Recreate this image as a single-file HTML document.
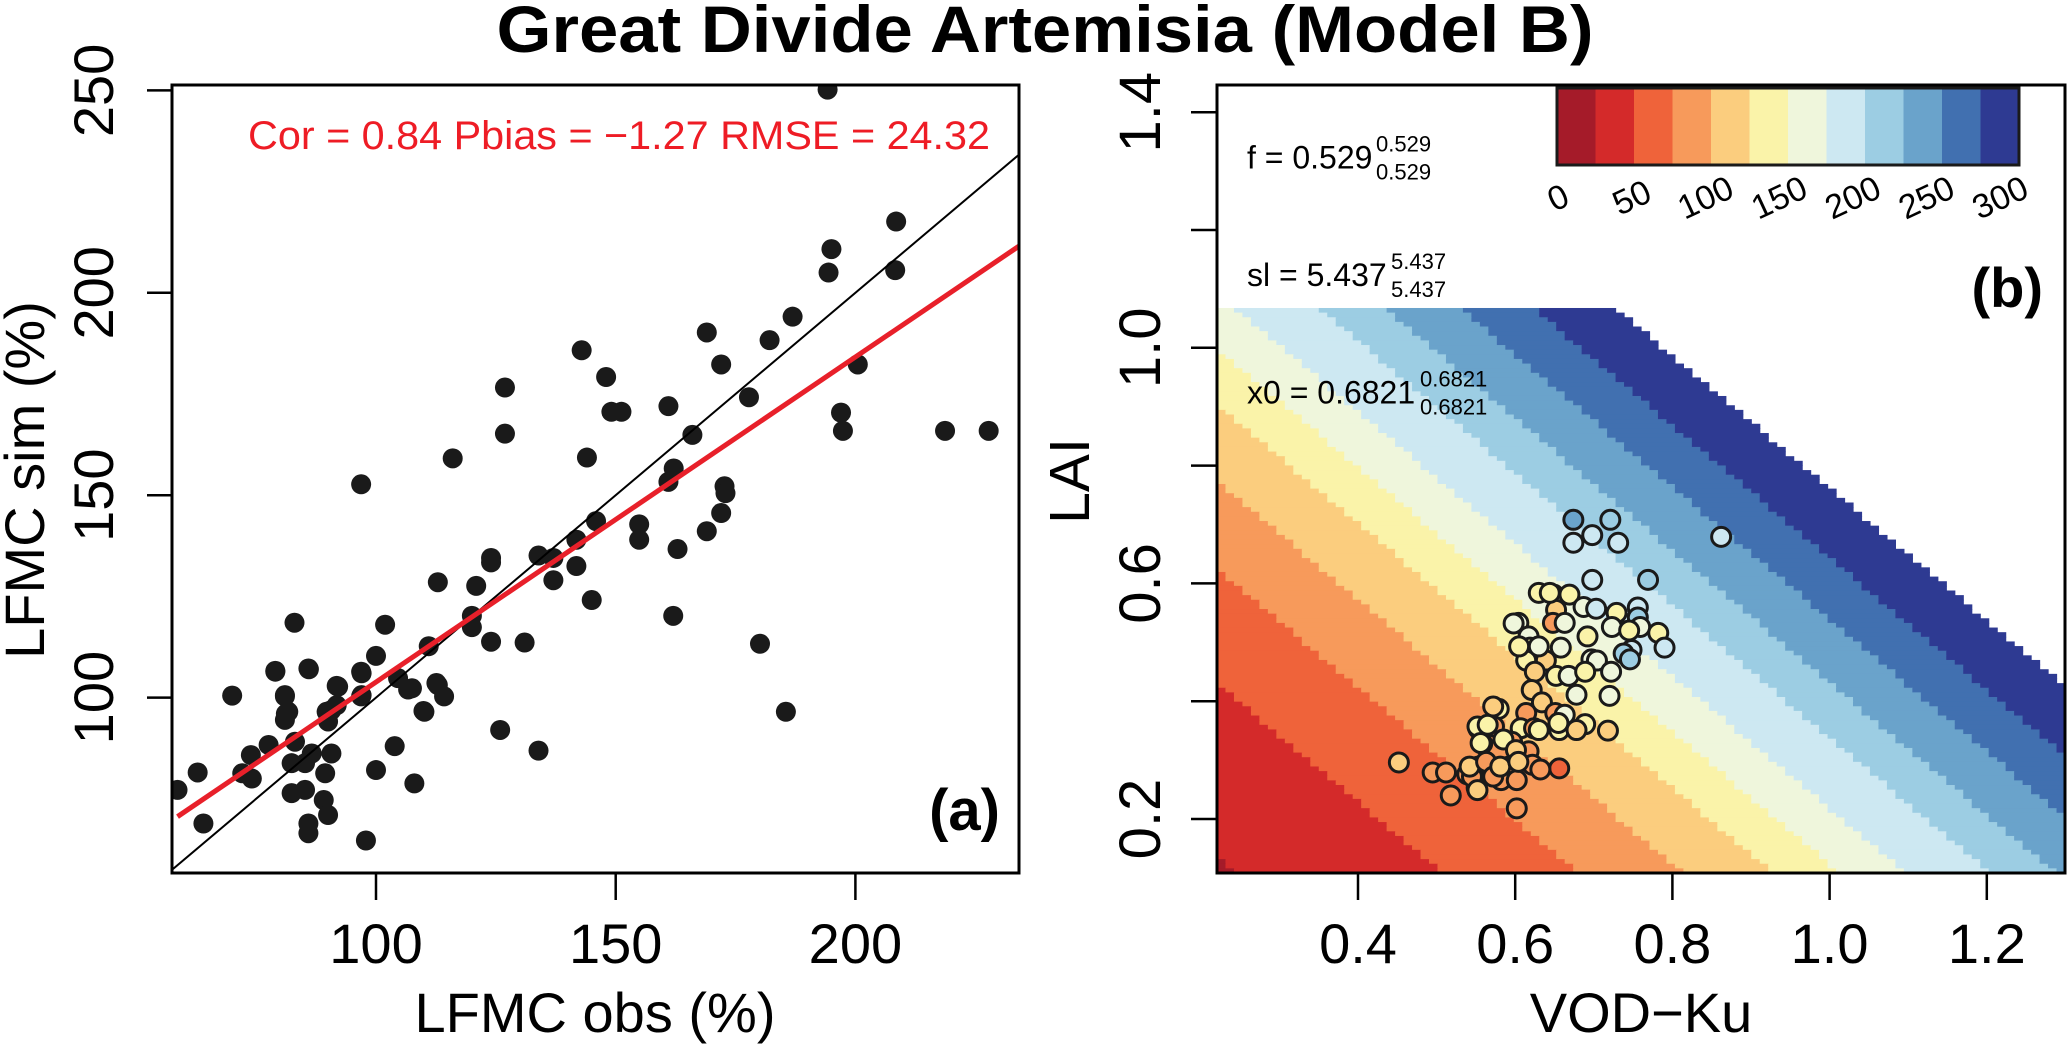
<!DOCTYPE html>
<html><head><meta charset="utf-8"><style>
html,body{margin:0;padding:0;background:#fff;}
svg text{font-family:"Liberation Sans",Arial,sans-serif;}
</style></head><body>
<svg id="fig" width="2067" height="1044" viewBox="0 0 2067 1044" xmlns="http://www.w3.org/2000/svg">
<text x="1045" y="52" font-size="66" font-weight="bold" text-anchor="middle" textLength="1097" lengthAdjust="spacingAndGlyphs">Great Divide Artemisia (Model B)</text>
<g id="left"></g>
<g id="right"></g>
</svg>
<script>
// ---------- Panel (a) data ----------
const obsX = [186.9,169.0,182.1,142.9,172.0,126.9,148.0,149.1,151.2,161.0,177.8,126.9,166.0,116.0,144.0,162.1,161.0,172.7,172.9,172.0,96.9,145.9,154.9,154.9,169.0,141.8,162.9,124.0,124.0,133.9,137.0,141.8,137.0,112.9,120.9,145.0,162.0,120.0,120.0,83.0,101.9,124.0,131.0,180.1,111.0,100.0,79.0,86.0,96.9,104.6,106.7,91.8,112.6,114.2,70.0,81.0,96.9,81.2,109.9,89.7,91.8,185.5,125.9,133.9,108.0,103.9,100.0,97.9,110.1,107.5,97.0,97.0,79.0,85.9,81.0,81.7,81.0,92.1,90.7,90.0,77.6,73.9,74.1,72.1,83.1,82.4,86.6,85.2,89.4,90.7,82.4,85.2,89.1,90.0,85.9,85.9,62.8,58.6,64.0,194.2,208.5,195.0,194.4,208.3,197.0,197.4,218.7,227.8,200.5,112.9];
const simY = [194.1,190.2,188.3,185.8,182.3,176.6,179.2,170.6,170.6,172.0,174.2,165.2,164.9,159.1,159.3,156.6,153.3,152.2,150.5,145.6,152.7,143.6,142.8,139.0,141.1,139.0,136.7,134.5,133.4,135.1,134.5,132.5,129.0,128.5,127.6,124.1,120.2,120.2,117.4,118.5,118.0,113.8,113.6,113.3,112.7,110.3,106.6,107.0,106.4,104.8,102.0,102.9,103.6,100.3,100.5,100.3,100.3,96.0,96.7,96.5,98.1,96.5,92.0,86.9,78.8,88.0,82.1,64.7,96.5,102.3,100.6,106.0,106.4,107.2,100.6,96.5,94.5,102.7,96.9,94.1,88.3,85.8,80.0,81.3,89.1,83.8,86.2,83.8,81.3,86.2,76.4,77.2,74.7,71.0,68.9,66.5,81.5,77.2,68.9,250.2,217.6,210.8,205.0,205.6,170.4,165.9,165.9,165.9,182.3,103.1];
const xTicksA = [100,150,200];
const yTicksA = [100,150,200,250];
const regA = 23.54, regB = 0.803;
const statsText = ["Cor = 0.84","Pbias = \u22121.27","RMSE = 24.32"];

// ---------- Panel (b) data ----------
const vodPts = [0.674,0.721,0.674,0.698,0.731,0.862,0.698,0.769,0.649,0.669,0.652,0.687,0.703,0.729,0.756,0.756,0.604,0.648,0.663,0.723,0.692,0.759,0.745,0.782,0.617,0.658,0.748,0.790,0.619,0.738,0.746,0.614,0.639,0.697,0.704,0.625,0.652,0.668,0.689,0.722,0.621,0.720,0.634,0.579,0.614,0.651,0.663,0.553,0.573,0.607,0.624,0.656,0.689,0.718,0.558,0.596,0.617,0.622,0.656,0.539,0.553,0.568,0.592,0.582,0.602,0.551,0.602,0.452,0.495,0.512,0.518,0.545,0.542,0.552,0.563,0.572,0.581,0.552,0.565,0.572,0.556,0.585,0.601,0.604,0.632,0.598,0.630,0.644,0.605,0.630,0.678,0.655,0.678,0.630];
const laiPts = [0.708,0.708,0.669,0.682,0.669,0.679,0.606,0.606,0.581,0.581,0.555,0.560,0.557,0.550,0.559,0.542,0.533,0.533,0.533,0.526,0.510,0.526,0.520,0.516,0.510,0.491,0.487,0.491,0.491,0.481,0.471,0.469,0.469,0.471,0.469,0.450,0.443,0.443,0.450,0.450,0.419,0.409,0.398,0.387,0.380,0.380,0.377,0.354,0.357,0.354,0.354,0.351,0.361,0.350,0.328,0.331,0.315,0.292,0.286,0.276,0.289,0.289,0.289,0.266,0.266,0.253,0.218,0.296,0.279,0.279,0.240,0.272,0.289,0.249,0.297,0.272,0.289,0.357,0.360,0.391,0.329,0.335,0.317,0.297,0.284,0.532,0.584,0.584,0.493,0.493,0.411,0.363,0.351,0.351];
const lfmcPts = [235,210,185,185,185,185,185,210,160,135,110,160,185,135,185,210,160,85,160,160,135,160,135,135,160,160,185,185,135,210,210,135,110,160,160,110,135,160,135,160,110,160,110,135,85,85,160,135,85,135,85,135,135,110,135,85,85,85,65,85,110,85,85,85,85,85,85,110,85,85,85,85,110,110,85,85,110,135,135,110,135,135,110,110,85,160,135,135,135,160,160,135,110,135];
const legendBreaks = [0,25,50,75,100,125,150,175,200,225,250,275,300];
const legendLabels = [0,50,100,150,200,250,300];
const palette = ["#a51b29","#d42a2a","#ef633a","#f79a5b","#fbcd7e","#faf3a9","#eff6dc","#cde8f2","#9ccde3","#6aa3cb","#4170b0","#2e3a92"];
const sBreaks = [0.241,0.503,0.676,0.809,0.924,1.009,1.093,1.2,1.283,1.379,1.472,1.577];
const xTicksB = [0.4,0.6,0.8,1.0,1.2];
const yTicksB = [0.2,0.4,0.6,0.8,1.0,1.2,1.4];
const yLabelsB = [0.2,0.6,1.0,1.4];

const NS = "http://www.w3.org/2000/svg";
function mk(tag, attrs, parent){const e=document.createElementNS(NS,tag);for(const k in attrs)e.setAttribute(k,attrs[k]);parent.appendChild(e);return e;}

// ---------- Panel (a) ----------
const L = document.getElementById('left');
const xL = v => 376 + (v-100)*4.794;
const yL = v => 697.6 - (v-100)*4.048;
const boxA = {x0:172,x1:1019,y0:85,y1:873};
const clipA = mk('clipPath',{id:'clipA'},L);
mk('rect',{x:boxA.x0,y:boxA.y0,width:boxA.x1-boxA.x0,height:boxA.y1-boxA.y0},clipA);
const gA = mk('g',{'clip-path':'url(#clipA)'},L);


obsX.forEach((x,i)=>{
  const c = mk('circle',{cx:xL(x),cy:yL(simY[i]),r:10,fill:'#1a1a1a'},gA);
  
  
});
const one = mk('line',{x1:xL(50),y1:yL(50),x2:xL(260),y2:yL(260),stroke:'#000','stroke-width':2},gA);


const rx0=58.6, rx1=236;
const reg = mk('line',{x1:xL(rx0),y1:yL(regA+regB*rx0),x2:xL(rx1),y2:yL(regA+regB*rx1),stroke:'#e8202a','stroke-width':5},gA);


const bA = mk('rect',{x:boxA.x0,y:boxA.y0,width:boxA.x1-boxA.x0,height:boxA.y1-boxA.y0,fill:'none',stroke:'#000','stroke-width':3},L);


xTicksA.forEach(t=>{
  mk('line',{x1:xL(t),y1:873,x2:xL(t),y2:900,stroke:'#000','stroke-width':2.5},L);
  const tx = mk('text',{x:xL(t),y:963,'font-size':56,'text-anchor':'middle'},L);
  tx.textContent=t;
  
  
});
yTicksA.forEach(t=>{
  mk('line',{x1:147,y1:yL(t),x2:172,y2:yL(t),stroke:'#000','stroke-width':2.5},L);
  const tx = mk('text',{x:0,y:0,'font-size':56,'text-anchor':'middle',transform:`translate(113,${yL(t)}) rotate(-90)`},L);
  tx.textContent=t;
  
  
});
const xtA = mk('text',{x:595,y:1032,'font-size':56,'text-anchor':'middle'},L);
xtA.textContent='LFMC obs (%)';


const ytA = mk('text',{x:0,y:0,'font-size':56,'text-anchor':'middle',transform:'translate(44,480) rotate(-90)'},L);
ytA.textContent='LFMC sim (%)';


const st = mk('text',{x:248,y:149,'font-size':40,fill:'#ee1c25',textLength:742,lengthAdjust:'spacingAndGlyphs'},L);
st.textContent=statsText.join(' ');


const la = mk('text',{x:1000,y:830,'font-size':58,'font-weight':'bold','text-anchor':'end'},L);
la.textContent='(a)';



// ---------- Panel (b) ----------
const R = document.getElementById('right');
const xR = v => 1358 + (v-0.4)*786;
const yR = v => 819 - (v-0.2)*589;
const boxB = {x0:1217,x1:2065,y0:85,y1:873};
const vMin = (boxB.x0-1358)/786+0.4, vMax=(boxB.x1-1358)/786+0.4;
const lTop = 1.0676, lBot = 0.2-(boxB.y1-819)/589;
const heat = mk('g',{},R);


const cols=100, rows=122;
const cw=(boxB.x1-boxB.x0)/cols, ch=(yR(lBot)-yR(lTop))/rows;
function band(vod,lai){const s=vod+0.89*(lai-0.113);let b=0;for(const k of sBreaks){if(s>k)b++;}return b;}
for(let r=0;r<rows;r++){
  const lai = lTop-(r+0.5)*(lTop-lBot)/rows;
  let start=0, cur=band(vMin+0.5*(vMax-vMin)/cols,lai);
  for(let c=1;c<=cols;c++){
    const b = c<cols ? band(vMin+(c+0.5)*(vMax-vMin)/cols,lai) : -1;
    if(b!==cur){
      if(cur<12){mk('rect',{x:boxB.x0+start*cw,y:yR(lTop)+r*ch,width:(c-start)*cw+0.6,height:ch+0.6,fill:palette[cur]},heat);}
      start=c;cur=b;
    }
  }
}
const ptsB = mk('g',{},R);


vodPts.forEach((v,i)=>{
  const idx=Math.min(11,Math.max(0,Math.floor(lfmcPts[i]/25)));
  const c = mk('circle',{cx:xR(v),cy:yR(laiPts[i]),r:9.5,fill:palette[idx],stroke:'#1a1a1a','stroke-width':3},ptsB);
  
  
});
const bB = mk('rect',{x:boxB.x0,y:boxB.y0,width:boxB.x1-boxB.x0,height:boxB.y1-boxB.y0,fill:'none',stroke:'#000','stroke-width':3},R);


xTicksB.forEach(t=>{
  mk('line',{x1:xR(t),y1:873,x2:xR(t),y2:900,stroke:'#000','stroke-width':2.5},R);
  const tx = mk('text',{x:xR(t),y:963,'font-size':56,'text-anchor':'middle'},R);
  tx.textContent=t.toFixed(1);
  
  
});
yTicksB.forEach(t=>{
  mk('line',{x1:1191,y1:yR(t),x2:1217,y2:yR(t),stroke:'#000','stroke-width':2.5},R);
});
yLabelsB.forEach(t=>{
  const tx = mk('text',{x:0,y:0,'font-size':58,'text-anchor':'middle',transform:`translate(1160,${yR(t)}) rotate(-90)`},R);
  tx.textContent=t.toFixed(1);
  
  
});
const xtB = mk('text',{x:1641,y:1032,'font-size':56,'text-anchor':'middle'},R);
xtB.textContent='VOD\u2212Ku';


const ytB = mk('text',{x:0,y:0,'font-size':57,'text-anchor':'middle',transform:'translate(1089,481) rotate(-90)'},R);
ytB.textContent='LAI';


const lb = mk('text',{x:2043,y:307,'font-size':56,'font-weight':'bold','text-anchor':'end'},R);
lb.textContent='(b)';


// parameter annotations
const params = [
  {lab:'f = 0.529', val:'0.529', x:1247, y:168.5, sx:1376},
  {lab:'sl = 5.437', val:'5.437', x:1247, y:286, sx:1391},
  {lab:'x0 = 0.6821', val:'0.6821', x:1247, y:403.5, sx:1420}
];
params.forEach(p=>{
  const a = mk('text',{x:p.x,y:p.y,'font-size':32},R);
  a.textContent=p.lab;
  
  
  const su = mk('text',{x:p.sx,y:p.y-17,'font-size':22},R);
  su.textContent=p.val;
  
  
  const sb = mk('text',{x:p.sx,y:p.y+11,'font-size':22},R);
  sb.textContent=p.val;
  
  
});
// legend
const lg = mk('g',{},R);


const lx0=1557, lx1=2019, ly0=88, ly1=165;
mk('rect',{x:lx0,y:ly0,width:lx1-lx0,height:ly1-ly0,fill:'#fff'},lg);
for(let i=0;i<legendBreaks.length-1;i++){
  const x0=lx0+(legendBreaks[i]/300)*(lx1-lx0), x1=lx0+(legendBreaks[i+1]/300)*(lx1-lx0);
  const sw = mk('rect',{x:x0,y:ly0,width:x1-x0+0.5,height:ly1-ly0,fill:palette[i]},lg);
  
  
}
mk('rect',{x:lx0,y:ly0,width:lx1-lx0,height:ly1-ly0,fill:'none',stroke:'#1a1a1a','stroke-width':3},lg);
legendLabels.forEach(v=>{
  const x = 1563 + v/300*442;
  const t = mk('text',{x:0,y:0,'font-size':34,'text-anchor':'middle',transform:`translate(${x},208) rotate(-25)`},lg);
  t.textContent=v;
  
  
});
</script>
</body></html>
